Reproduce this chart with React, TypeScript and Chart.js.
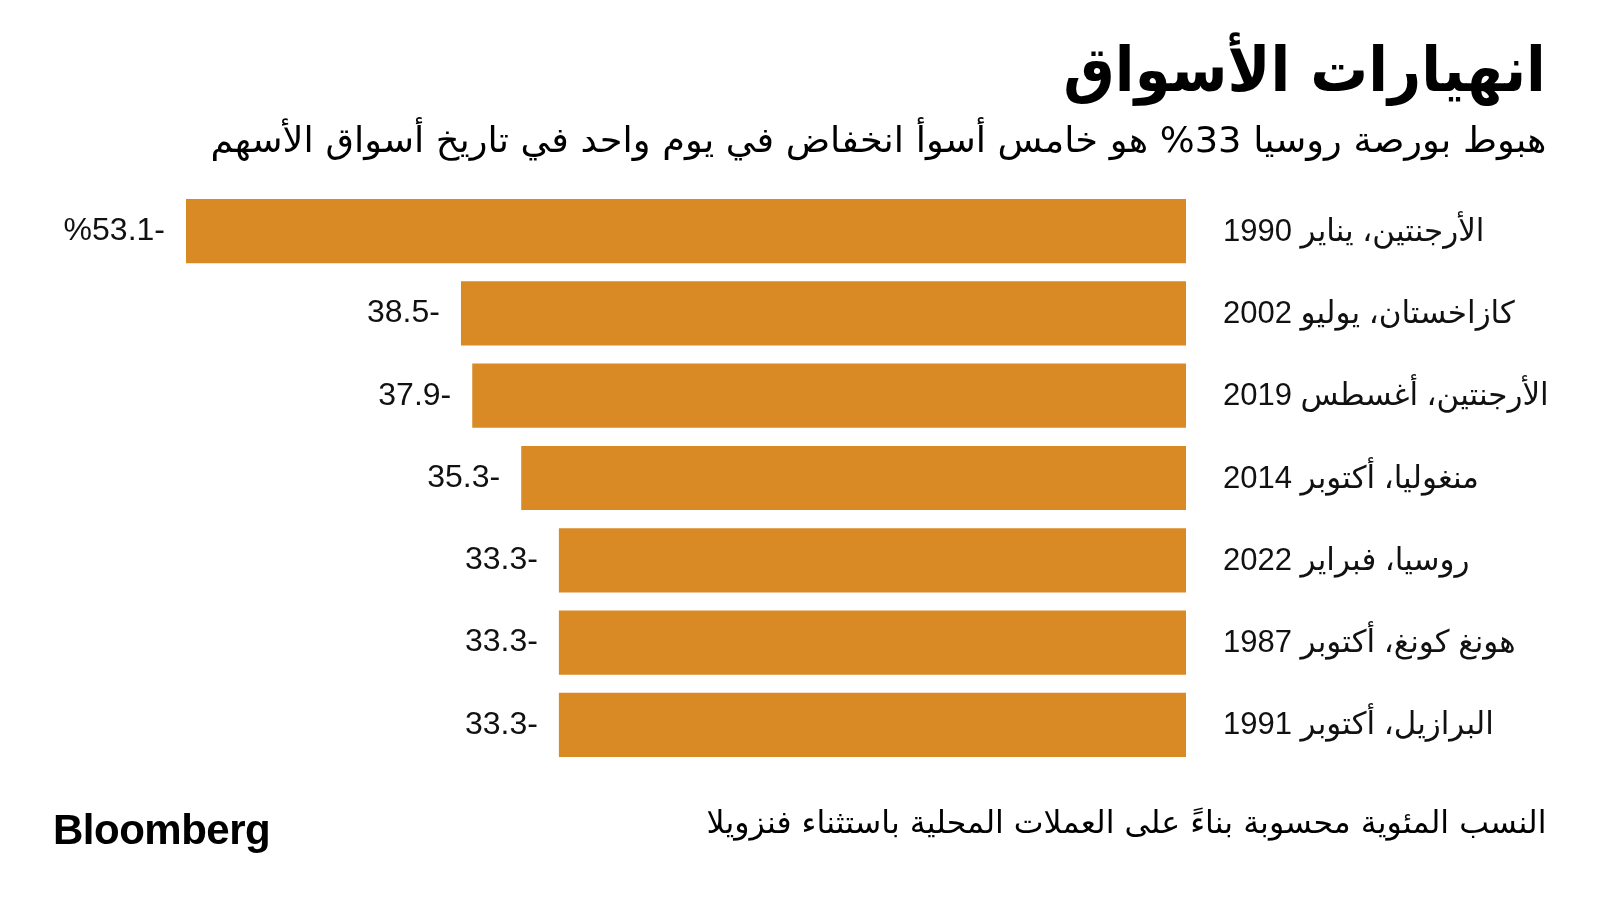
import React, { useEffect, useRef } from "react";
import { Chart, registerables } from "chart.js";

Chart.register(...registerables);

const categories = [
  "الأرجنتين، يناير 1990",
  "كازاخستان، يوليو 2002",
  "الأرجنتين، أغسطس 2019",
  "منغوليا، أكتوبر 2014",
  "روسيا، فبراير 2022",
  "هونغ كونغ، أكتوبر 1987",
  "البرازيل، أكتوبر 1991",
];
const values = [-53.1, -38.5, -37.9, -35.3, -33.3, -33.3, -33.3];
const valueLabels = ["%53.1-", "38.5-", "37.9-", "35.3-", "33.3-", "33.3-", "33.3-"];

const titleText = "انهيارات الأسواق";
const subtitleText = "هبوط بورصة روسيا 33% هو خامس أسوأ انخفاض في يوم واحد في تاريخ أسواق الأسهم";
const noteText = "النسب المئوية محسوبة بناءً على العملات المحلية باستثناء فنزويلا";
const logoText = "Bloomberg";

const BAR_COLOR = "#DA8A25";
const TEXT_COLOR = "#111111";

const labelPlugin = {
  id: "barLabels",
  afterDatasetsDraw(chart: any) {
    const ctx = chart.ctx;
    const meta = chart.getDatasetMeta(0);
    const area = chart.chartArea;
    ctx.save();
    ctx.fillStyle = TEXT_COLOR;
    ctx.textBaseline = "middle";
    meta.data.forEach((bar: any, i: number) => {
      ctx.font = '32px "Liberation Sans", "DejaVu Sans", sans-serif';
      ctx.direction = "ltr";
      ctx.textAlign = "right";
      ctx.fillText(valueLabels[i], bar.x - 21, bar.y);
      const y = chart.scales.y.getPixelForValue(i);
      ctx.font = '31px "Liberation Sans", "DejaVu Sans", sans-serif';
      ctx.direction = "rtl";
      ctx.textAlign = "left";
      ctx.fillText(categories[i], area.right + 37, y + 1);
    });
    ctx.restore();
  },
};

export default function App() {
  const canvasRef = useRef<HTMLCanvasElement | null>(null);

  useEffect(() => {
    document.body.style.margin = "0";
    const canvas = canvasRef.current;
    if (!canvas) return;
    const chart = new Chart(canvas, {
      type: "bar",
      data: {
        labels: categories,
        datasets: [
          {
            data: values,
            backgroundColor: BAR_COLOR,
            borderWidth: 0,
            barPercentage: 0.78,
            categoryPercentage: 1,
          },
        ],
      },
      options: {
        indexAxis: "y",
        animation: false,
        responsive: false,
        maintainAspectRatio: false,
        layout: { padding: { left: 186, right: 414, top: 190, bottom: 142 } },
        scales: {
          x: { min: -53.1, max: 0, display: false },
          y: { display: false },
        },
        plugins: {
          legend: { display: false },
          tooltip: { enabled: false },
        },
      },
      plugins: [labelPlugin],
    });
    return () => chart.destroy();
  }, []);

  return (
    <div style={{ position: "relative", width: 1600, height: 908, background: "#fff", overflow: "hidden" }}>
      <canvas ref={canvasRef} width={1600} height={908} style={{ position: "absolute", left: 0, top: 0 }} />
      <div
        dir="rtl"
        style={{
          position: "absolute",
          right: 54,
          top: 30,
          fontFamily: '"DejaVu Sans", sans-serif',
          fontWeight: "bold",
          fontSize: 62,
          lineHeight: "80px",
          color: "#000",
          whiteSpace: "nowrap",
          transform: "scaleX(0.93)",
          transformOrigin: "right center",
        }}
      >
        {titleText}
      </div>
      <div
        dir="rtl"
        style={{
          position: "absolute",
          right: 54,
          top: 115,
          fontFamily: '"DejaVu Sans", sans-serif',
          fontSize: 35,
          lineHeight: "50px",
          color: "#000",
          whiteSpace: "nowrap",
          transform: "scaleX(1.05)",
          transformOrigin: "right center",
        }}
      >
        {subtitleText}
      </div>
      <div
        dir="rtl"
        style={{
          position: "absolute",
          right: 54,
          top: 800,
          fontFamily: '"DejaVu Sans", sans-serif',
          fontSize: 31,
          lineHeight: "44px",
          color: "#000",
          whiteSpace: "nowrap",
          transform: "scaleX(1.02)",
          transformOrigin: "right center",
        }}
      >
        {noteText}
      </div>
      <div
        style={{
          position: "absolute",
          left: 53,
          top: 805,
          fontFamily: '"Liberation Sans", Arial, sans-serif',
          fontWeight: "bold",
          fontSize: 42,
          letterSpacing: "-0.5px",
          lineHeight: "50px",
          color: "#000",
          whiteSpace: "nowrap",
        }}
      >
        {logoText}
      </div>
    </div>
  );
}
